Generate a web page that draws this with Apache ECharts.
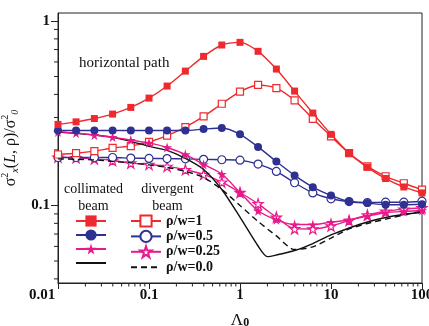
<!DOCTYPE html>
<html>
<head>
<meta charset="utf-8">
<script src="https://cdn.jsdelivr.net/npm/echarts@6/dist/echarts.min.js"></script>
<style>html,body{margin:0;padding:0;background:#fff}#c{width:429px;height:326px}</style>
</head>
<body>
<div id="c"></div>
<script>
// Lambda_0 sample points
const lambda = [0.01, 0.0158, 0.0251, 0.0398, 0.0631, 0.1, 0.158, 0.251, 0.398, 0.631, 1, 1.58, 2.51, 3.98, 6.31, 10, 15.8, 25.1, 39.8, 63.1, 100];
const lambdaSolid = [0.01, 0.0158, 0.0251, 0.0398, 0.0631, 0.1, 0.158, 0.251, 0.398, 0.631, 1, 1.58, 2, 2.51, 3.98, 6.31, 10, 15.8, 25.1, 39.8, 63.1, 100];
// collimated beam
const colRho1   = [0.275, 0.284, 0.296, 0.313, 0.340, 0.382, 0.444, 0.535, 0.643, 0.741, 0.766, 0.685, 0.549, 0.417, 0.317, 0.243, 0.192, 0.161, 0.140, 0.126, 0.117];
const colRho05  = [0.255, 0.255, 0.255, 0.255, 0.255, 0.255, 0.255, 0.255, 0.2595, 0.263, 0.243, 0.2077, 0.173, 0.1455, 0.1257, 0.1133, 0.105, 0.103, 0.101, 0.101, 0.1016];
const colRho025 = [0.2505, 0.2468, 0.2406, 0.2348, 0.2262, 0.2183, 0.2063, 0.189, 0.1669, 0.148, 0.1176, 0.0936, 0.0836, 0.0788, 0.0788, 0.0812, 0.0834, 0.0875, 0.0913, 0.0928, 0.0939];
const colRho0   = [0.2498, 0.2458, 0.2412, 0.2339, 0.2226, 0.2091, 0.1988, 0.180, 0.1568, 0.1221, 0.0864, 0.0603, 0.0528, 0.0539, 0.0570, 0.0622, 0.0692, 0.0755, 0.0814, 0.0861, 0.0894, 0.0919];
// divergent beam
const divRho1   = [0.189, 0.192, 0.197, 0.205, 0.210, 0.221, 0.239, 0.266, 0.304, 0.356, 0.414, 0.450, 0.433, 0.371, 0.295, 0.237, 0.192, 0.163, 0.144, 0.132, 0.122];
const divRho05  = [0.182, 0.182, 0.182, 0.182, 0.1806, 0.180, 0.1795, 0.179, 0.1778, 0.177, 0.176, 0.1676, 0.153, 0.1328, 0.117, 0.1087, 0.105, 0.1038, 0.1042, 0.1042, 0.1055];
const divRho025 = [0.1828, 0.1815, 0.179, 0.1754, 0.1697, 0.1669, 0.1629, 0.1563, 0.1473, 0.1338, 0.1176, 0.1021, 0.0864, 0.0747, 0.0746, 0.0774, 0.0829, 0.0888, 0.0931, 0.0955, 0.0972];
const divRho0   = [0.179, 0.178, 0.1766, 0.1733, 0.1702, 0.1659, 0.1608, 0.153, 0.1419, 0.1221, 0.100, 0.0819, 0.0684, 0.0577, 0.0597, 0.0666, 0.0746, 0.0799, 0.0843, 0.0888, 0.0934];
// legend labels
const divNames = ['ρ/w=1', 'ρ/w=0.5', 'ρ/w=0.25', 'ρ/w=0.0'];
const colNames = ['c1', 'c05', 'c025', 'c0'];
// minor tick values
const xMinor = [0.02,0.03,0.04,0.05,0.06,0.07,0.08,0.09,0.2,0.3,0.4,0.5,0.6,0.7,0.8,0.9,2,3,4,5,6,7,8,9,20,30,40,50,60,70,80,90];
const yMinor = [0.04,0.05,0.06,0.07,0.08,0.09,0.2,0.3,0.4,0.5,0.6,0.7,0.8,0.9];

const X_MIN = 0.01, X_MAX = 100, Y_MIN = 0.038, Y_MAX = 1.105;
const RED = '#ee2a2e', BLUE = '#2e3192', PINK = '#e8198b', BLACK = '#111';
const STAR = 'path://M50,0 L61,35 L98,35 L68,57 L79,91 L50,70 L21,91 L32,57 L2,35 L39,35 Z';
const serif = '"Liberation Serif","DejaVu Serif",serif';

function pairs(xs, ys){ return xs.map((x,i)=>[x, ys[i]]); }
function mk(name, xs, ys, color, symbol, size, open, dashed){
  const noSym = !symbol;
  return {
    name, type:'line', data: pairs(xs, ys), smooth: 0.25,
    symbol: noSym ? 'circle' : symbol, symbolSize: noSym ? 0 : size, showSymbol: !noSym,
    lineStyle: {color, width: 1.4, type: dashed ? [6,4] : 'solid'},
    itemStyle: noSym ? {color, opacity: 0} :
      (open ? {color:'#fff', borderColor: color, borderWidth: 1.2} : {color, borderColor: color, borderWidth: 0}),
    emphasis: {disabled: true}, z: open ? 3 : 4
  };
}
function legendData(names){
  return names.map((n, i) => i === 3 ? {name: n, itemStyle: {opacity: 0}} : {name: n});
}
const lblFont = {fontFamily: serif, fontWeight: 'bold', fontSize: 15, color: '#111'};

const chart = echarts.init(document.getElementById('c'), null, {renderer:'canvas'});
chart.setOption({
  animation: false,
  grid: {left: 58, right: 7, top: 13, bottom: 43, show: true, borderColor: '#222', borderWidth: 1,
         backgroundColor:'transparent', containLabel: false, outerBoundsMode: 'none'},
  xAxis: {
    type: 'log', min: X_MIN, max: X_MAX, logBase: 10,
    axisLine: {lineStyle: {color: '#222', width: 1}},
    axisTick: {length: 6, lineStyle: {color:'#222'}},
    splitLine: {show: false},
    axisLabel: Object.assign({}, lblFont, {margin: 5,
      formatter: v => v <= X_MIN * 1.0001 ? '{f|' + v + '}' : String(v),
      rich: {f: Object.assign({}, lblFont, {padding: [0, 32, 0, 0]})}}),
    name: '{a|Λ}{b|0}', nameLocation: 'middle', nameGap: 26,
    nameTextStyle: {rich: {
      a: {fontFamily: serif, fontSize: 17, color:'#111', verticalAlign:'bottom', lineHeight: 20},
      b: {fontFamily: serif, fontSize: 12, fontWeight:'bold', color:'#111', verticalAlign:'bottom', lineHeight: 14}
    }}
  },
  yAxis: {
    type: 'log', min: Y_MIN, max: Y_MAX, logBase: 10,
    axisLine: {show: true, lineStyle: {color: '#222', width: 1}},
    axisTick: {length: 7, lineStyle: {color:'#222'}},
    splitLine: {show: false},
    axisLabel: Object.assign({}, lblFont, {margin: 8,
      showMinLabel: false, showMaxLabel: false,
      formatter: v => { const l = Math.log10(v); return Math.abs(l - Math.round(l)) < 1e-6 ? String(+v.toPrecision(3)) : ''; }}),
    name: '{s|σ}{p|2}{q|x}{s|(}{i|L}{s|, ρ)/σ}{p|2}{q|0}', nameLocation: 'middle', nameGap: 31, nameRotate: 90,
    nameTextStyle: {rich: {
      s: {fontFamily: serif, fontSize: 16, color:'#111', lineHeight: 20, verticalAlign:'middle'},
      i: {fontFamily: serif, fontSize: 16, fontStyle:'italic', color:'#111', lineHeight: 20, verticalAlign:'middle'},
      p: {fontFamily: serif, fontSize: 10, color:'#111', lineHeight: 20, verticalAlign:'top'},
      q: {fontFamily: serif, fontSize: 10, fontStyle:'italic', color:'#111', lineHeight: 20, verticalAlign:'bottom'}
    }}
  },
  legend: [
    {data: legendData(colNames), orient:'vertical', left: 75, top: 214, padding: 0, itemWidth: 30, itemHeight: 14, itemGap: 1.4,
     formatter: () => '', textStyle:{fontSize: 1}, selectedMode: false},
    {data: legendData(divNames), orient:'vertical', left: 130, top: 214, padding: 0, itemWidth: 30, itemHeight: 14, itemGap: 1.4, itemTextGap: 6,
     textStyle: {fontFamily: serif, fontWeight:'bold', fontSize: 14, color:'#111'}, selectedMode: false}
  ],
  graphic: [
    {type:'text', left: 79, top: 56, style:{text:'horizontal path', font: '15px ' + serif, fill:'#111'}},
    {type:'text', x: 93.5, y: 181, style:{text:'collimated\nbeam', font: '14px ' + serif, fill:'#111', align:'center', lineHeight: 17}},
    {type:'text', x: 167.5, y: 181, style:{text:'divergent\nbeam', font: '14px ' + serif, fill:'#111', align:'center', lineHeight: 17}}
  ],
  series: [
    mk(divNames[3], lambda, divRho0, BLACK, null, 0, false, true),
    mk(colNames[3], lambdaSolid, colRho0, BLACK),
    mk(divNames[2], lambda, divRho025, PINK, STAR, 10, true),
    mk(colNames[2], lambda, colRho025, PINK, STAR, 10, false),
    mk(divNames[1], lambda, divRho05, BLUE, 'circle', 8, true),
    mk(colNames[1], lambda, colRho05, BLUE, 'circle', 8, false),
    mk(divNames[0], lambda, divRho1, RED, 'rect', 7, true),
    mk(colNames[0], lambda, colRho1, RED, 'rect', 7, false),
    {type:'custom', name:'xminor', silent: true, data: xMinor.map(v => [v, Y_MIN]),
     renderItem: (p, api) => { const c = api.coord([api.value(0), Y_MIN]);
       return {type:'line', shape:{x1:c[0], y1:c[1], x2:c[0], y2:c[1]+3.5}, style:{stroke:'#222', lineWidth:1}}; }},
    {type:'custom', name:'yminor', silent: true, data: yMinor.map(v => [X_MIN, v]),
     renderItem: (p, api) => { const c = api.coord([X_MIN, api.value(1)]);
       return {type:'line', shape:{x1:c[0]-4, y1:c[1], x2:c[0], y2:c[1]}, style:{stroke:'#222', lineWidth:1}}; }}
  ]
});
</script>
</body>
</html>
